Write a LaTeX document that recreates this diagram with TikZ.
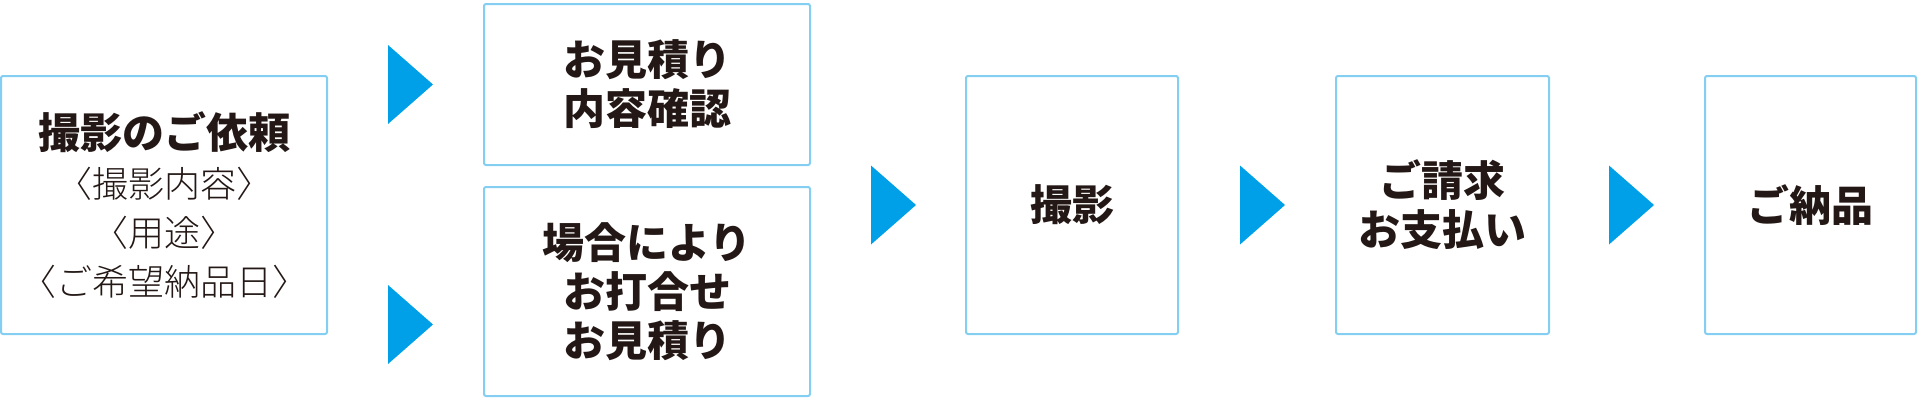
\documentclass[tikz,border=0pt]{standalone}
\usepackage{fontspec}
\newfontfamily\jp{Noto Sans CJK JP}
\newfontfamily\jplight{Noto Sans CJK JP Light}
\usepackage{tikz}

\definecolor{boxline}{HTML}{84CFF1}
\definecolor{arrowblue}{HTML}{00A0E9}
\definecolor{ink}{HTML}{231815}

\tikzset{
  stepbox/.style={draw=boxline, line width=2pt, rounded corners=2pt, fill=white,
                  align=center, text=ink, inner sep=0pt,
                  font=\jp\bfseries\fontsize{42}{49}\selectfont},
}

\begin{document}
\begin{tikzpicture}[x=1pt,y=-1pt]
                              % Canvas
                              \useasboundingbox (0,0) rectangle (1918,400);

                              % Boxes
                              \node[stepbox, minimum width=326, minimum height=258,
                                    font=\jplight\fontsize{36}{49}\selectfont] (irai) at (164,205)
                                    {{\jp\bfseries\fontsize{42}{49}\selectfont 撮影のご依頼}\\
                                     〈撮影内容〉\\ 〈用途〉\\ 〈ご希望納品日〉};
                              \node[stepbox, minimum width=326, minimum height=161] (mitsumori) at (647,84.5)
                                    {お見積り\\内容確認};
                              \node[stepbox, minimum width=326, minimum height=209] (uchiawase) at (647,291.5)
                                    {場合により\\お打合せ\\お見積り};
                              \node[stepbox, minimum width=212, minimum height=258] (satsuei) at (1072,205)
                                    {撮影};
                              \node[stepbox, minimum width=213, minimum height=258] (seikyu) at (1442.5,205)
                                    {ご請求\\お支払い};
                              \node[stepbox, minimum width=211, minimum height=258] (nohin) at (1810.5,205)
                                    {ご納品};

                              % Arrows
                              \foreach \ax/\ay in {388/84.5, 388/324.5, 871/205, 1240/205, 1609/205}
                                    \fill[arrowblue] (\ax,\ay-39.5) -- (\ax+45,\ay) -- (\ax,\ay+39.5) -- cycle;
\end{tikzpicture}
\end{document}
